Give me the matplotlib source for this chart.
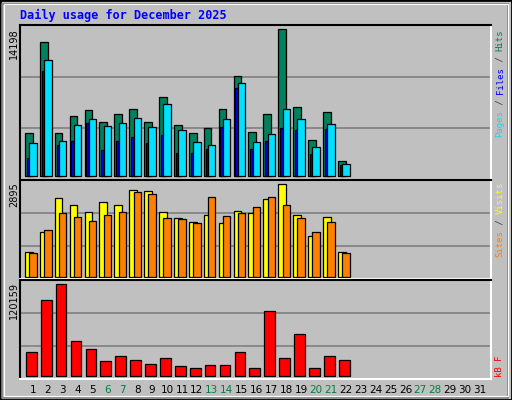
import matplotlib
matplotlib.use("Agg")
import matplotlib.pyplot as plt
from matplotlib.patches import Rectangle
import numpy as np

days = list(range(1, 32))
weekend = [6, 7, 13, 14, 20, 21, 27, 28]
hits = [4153,12944,4153,5796,6375,5216,5989,6472,5216,7631,4926,4153,4636,6472,9659,4250,5989,14198,6665,3477,6182,1449]
files = [3187,11204,3381,4926,5506,4830,5119,5602,4733,6954,4443,3284,2994,5506,8983,3284,4057,6472,5506,2801,5023,1159]
pages = [1739,10142,2994,3381,5119,2511,3381,3767,3187,3960,2222,2222,2608,4733,8500,2608,3381,4636,4443,2125,4540,1062]
visits = [763,1390,2456,2236,2017,2330,2236,2707,2675,2017,1829,1703,1923,1672,2048,1986,2425,2895,1923,1265,1860,763]
sites = [732,1453,1986,1860,1735,1923,2017,2644,2581,1829,1797,1672,2487,1892,1986,2174,2487,2236,1829,1390,1703,732]
kbytes = [30697,99111,120159,45167,34644,18857,25435,20173,14911,22804,12279,9648,13594,13594,30697,9648,84637,22804,54379,9648,25435,20173]

W, H = 512, 400
fig = plt.figure(figsize=(W/100, H/100), dpi=100, facecolor="#C0C0C0")
fig.patches.append(Rectangle((0, 0), 1, 1, transform=fig.transFigure, fill=False, ec="black", lw=2))
fig.patches.append(Rectangle((2/W, 2/H), 1-6/W, 1-6/H, transform=fig.transFigure, fill=False, ec="#808080", lw=1.2))
fig.patches.append(Rectangle((4/W, 4/H), 1-8/W, 1-8/H, transform=fig.transFigure, fill=False, ec="white", lw=0.8))

def mkax(top, bot):
    ax = fig.add_axes([20/W, 1-bot/H, 471/W, (bot-top)/H])
    ax.set_facecolor("#C0C0C0")
    ax.set_xlim(0.13, 31.74)
    for f in (1/3, 2/3):
        ax.plot([0, 1], [f, f], transform=ax.transAxes, color="#808080", lw=1.2, zorder=0)
    ax.spines["top"].set_color("black"); ax.spines["left"].set_color("black")
    ax.spines["bottom"].set_color("white"); ax.spines["right"].set_color("white")
    for s in ax.spines.values():
        s.set_linewidth(1.5)
    ax.set_yticks([])
    ax.tick_params(length=0)
    return ax

n = len(hits)
x = np.arange(1, n+1)
ek = dict(edgecolor="black", linewidth=0.9, align="edge")

ax1 = mkax(25, 179.5)
ax1.set_ylim(-310, 14613)
ax1.bar(x-0.54, hits, width=0.52, color="#00805C", **ek)
ax1.bar(x-0.42, pages, width=0.2, color="#0000FF", **ek)
ax1.bar(x-0.25, files, width=0.5, color="#00E0FF", **ek)
ax1.set_xticks([])

ax2 = mkax(180, 279.3)
ax2.set_ylim(-84, 3031)
ax2.bar(x-0.54, visits, width=0.52, color="#FFFF00", **ek)
ax2.bar(x-0.25, sites, width=0.5, color="#FF8000", **ek)
ax2.set_xticks([])

ax3 = mkax(280, 379)
ax3.set_ylim(-4385, 125860)
ax3.bar(x-0.47, kbytes, width=0.72, color="#FF0000", **ek)
ax3.set_xticks(days)
ax3.set_xticklabels([str(d) for d in days], fontsize=7.5)
ax3.tick_params(axis="x", pad=4)
for lbl, d in zip(ax3.get_xticklabels(), days):
    lbl.set_color("#008040" if d in weekend else "black")

fig.text(20/W, 1-15/H, "Daily usage for December 2025", color="#0000FF",
         family="DejaVu Sans Mono", weight="bold", fontsize=8.5, va="center", ha="left")

for top, val in ((28, max(hits)), (182, max(visits)), (282, max(kbytes))):
    fig.text(14/W, 1-top/H, str(val), rotation=90, ha="center", va="top", fontsize=7)

cw = 5.4
def side(bottom, parts):
    off = 0
    for txt, col in parts:
        fig.text(500/W, 1-(bottom-off)/H, txt, rotation=90, ha="center", va="bottom",
                 color=col, family="DejaVu Sans Mono", fontsize=6.5)
        off += len(txt)*cw

side(137, [("Pages", "#00E0FF"), (" / ", "#404040"), ("Files", "#0000FF"), (" / ", "#404040"), ("Hits", "#00805C")])
side(257, [("Sites", "#FF8000"), (" / ", "#404040"), ("Visits", "#FFFF00")])
side(377, [("kB F", "#FF0000")])

fig.savefig("out.png", dpi=100, facecolor=fig.get_facecolor())
